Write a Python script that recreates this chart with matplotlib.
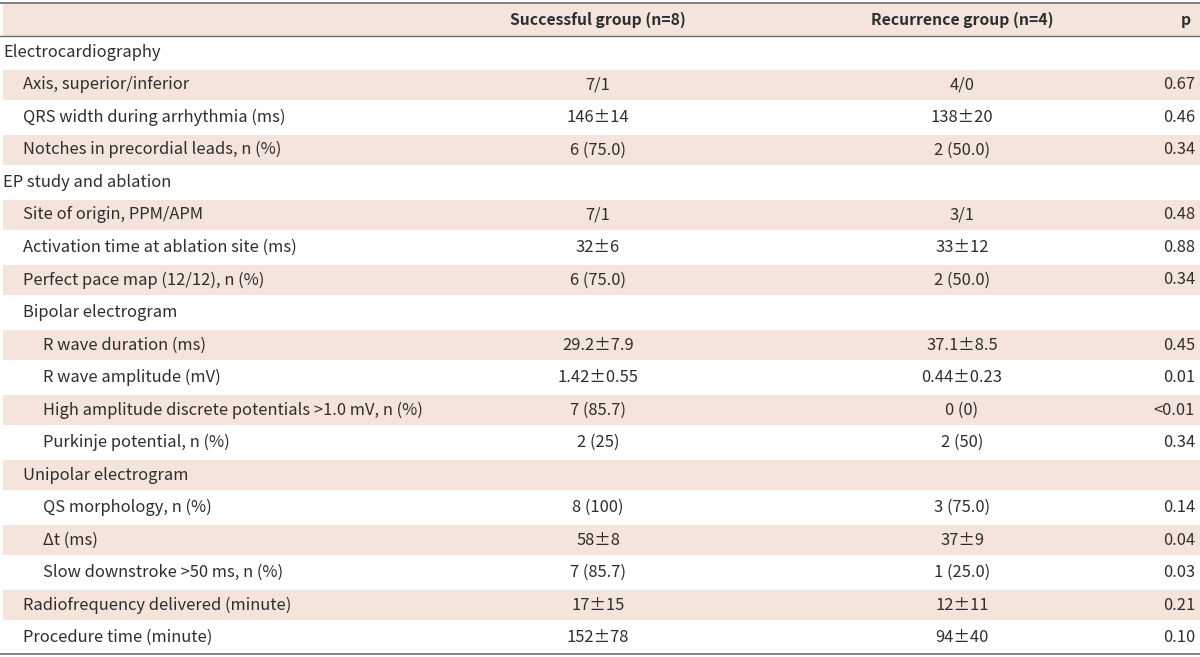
import matplotlib
matplotlib.use("Agg")
import matplotlib.pyplot as plt

plt.rcParams['font.family'] = ['Noto Sans CJK KR', 'DejaVu Sans']

# table content
headers = ["Successful group (n=8)", "Recurrence group (n=4)", "p"]
labels = [
    "Electrocardiography",
    "Axis, superior/inferior",
    "QRS width during arrhythmia (ms)",
    "Notches in precordial leads, n (%)",
    "EP study and ablation",
    "Site of origin, PPM/APM",
    "Activation time at ablation site (ms)",
    "Perfect pace map (12/12), n (%)",
    "Bipolar electrogram",
    "R wave duration (ms)",
    "R wave amplitude (mV)",
    "High amplitude discrete potentials >1.0 mV, n (%)",
    "Purkinje potential, n (%)",
    "Unipolar electrogram",
    "QS morphology, n (%)",
    "\u0394t (ms)",
    "Slow downstroke >50 ms, n (%)",
    "Radiofrequency delivered (minute)",
    "Procedure time (minute)",
]
indent = [0, 1, 1, 1, 0, 1, 1, 1, 1, 2, 2, 2, 2, 1, 2, 2, 2, 1, 1]
successful = ["", "7/1", "146\u00b114", "6 (75.0)", "", "7/1", "32\u00b16", "6 (75.0)", "",
              "29.2\u00b17.9", "1.42\u00b10.55", "7 (85.7)", "2 (25)", "",
              "8 (100)", "58\u00b18", "7 (85.7)", "17\u00b115", "152\u00b178"]
recurrence = ["", "4/0", "138\u00b120", "2 (50.0)", "", "3/1", "33\u00b112", "2 (50.0)", "",
              "37.1\u00b18.5", "0.44\u00b10.23", "0 (0)", "2 (50)", "",
              "3 (75.0)", "37\u00b19", "1 (25.0)", "12\u00b111", "94\u00b140"]
pvals = ["", "0.67", "0.46", "0.34", "", "0.48", "0.88", "0.34", "",
         "0.45", "0.01", "<0.01", "0.34", "", "0.14", "0.04", "0.03", "0.21", "0.10"]

W, H = 1200, 657
fig = plt.figure(figsize=(W / 100, H / 100), dpi=100)
ax = fig.add_axes([0, 0, 1, 1])
ax.set_xlim(0, W)
ax.set_ylim(H, 0)
ax.axis('off')

shade = '#f4e4dc'
line = '#6e6e6e'
text_c = '#2e2e2e'
fs = 11.9
fs_head = 11.3

top, head_h = 3, 33
row_h = (654 - (top + head_h)) / len(labels)
col_x = [598, 962]
p_x = 1195

# header
ax.add_patch(plt.Rectangle((3, top), W - 3, head_h, color=shade, lw=0))
for x, h in zip(col_x, headers[:2]):
    ax.text(x, top + head_h / 2, h, ha='center', va='center', fontsize=fs_head,
            fontweight='bold', color=text_c)
ax.text(p_x - 4, top + head_h / 2, headers[2], ha='right', va='center', fontsize=fs_head,
        fontweight='bold', color=text_c)

# rows
y0 = top + head_h
for i, lab in enumerate(labels):
    y = y0 + i * row_h
    if i % 2 == 1:
        ax.add_patch(plt.Rectangle((3, y + 1), W - 3, row_h - 2, color=shade, lw=0))
    yc = y + row_h / 2
    ax.text(3 + 20 * indent[i], yc, lab, ha='left', va='center', fontsize=fs,
            fontweight='light', color=text_c)
    ax.text(col_x[0], yc, successful[i], ha='center', va='center', fontsize=fs,
            fontweight='light', color=text_c)
    ax.text(col_x[1], yc, recurrence[i], ha='center', va='center', fontsize=fs,
            fontweight='light', color=text_c)
    ax.text(p_x, yc, pvals[i], ha='right', va='center', fontsize=fs,
            fontweight='light', color=text_c)

# rules
ax.plot([0, W], [top, top], color=line, lw=1.2)
ax.plot([0, W], [y0, y0], color=line, lw=1.0)
ax.plot([0, W], [654, 654], color=line, lw=1.2)

fig.savefig('out.png', dpi=100)
